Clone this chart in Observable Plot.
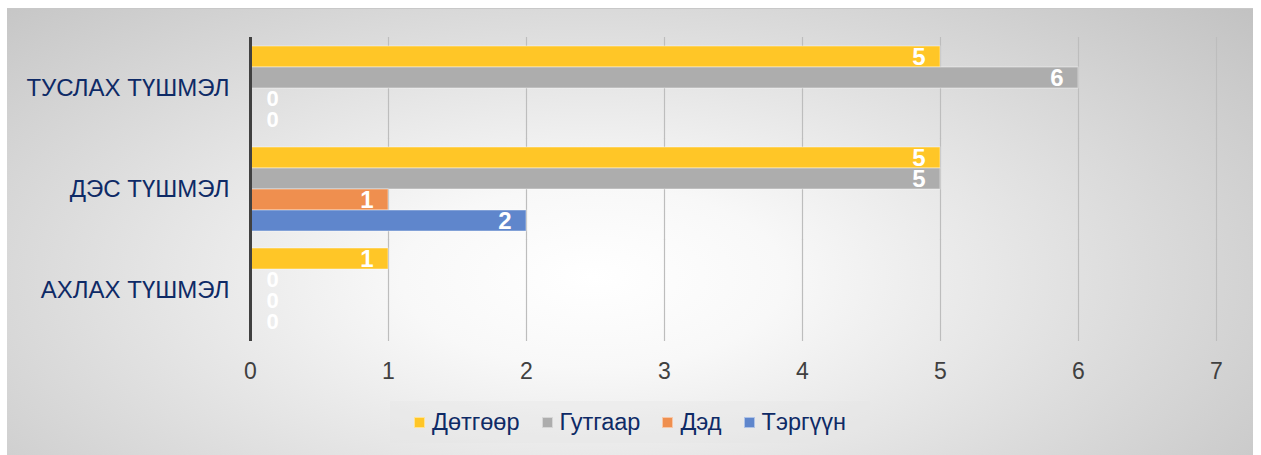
<!DOCTYPE html>
<html><head><meta charset="utf-8">
<script src="https://cdn.jsdelivr.net/npm/d3@7"></script>
<script src="https://cdn.jsdelivr.net/npm/@observablehq/plot@0.6"></script>
<style>
html,body{margin:0;padding:0;background:#fff;}
#wrap{position:relative;width:1261px;height:455px;overflow:hidden;font-family:"Liberation Sans",Arial,sans-serif;}
#bg{position:absolute;left:7px;top:8px;width:1246px;height:447px;
 background:radial-gradient(ellipse 70% 92% at 47% 60%, #ffffff 0%, #f8f8f8 22%, #dcdcdc 62%, #c2c2c2 100%);
 border-top:1px solid #c8c8c8;}
#chart{position:absolute;left:0;top:0;}
#legend{position:absolute;left:390px;top:401px;width:480px;height:42px;background:rgba(228,228,228,0.35);
 display:flex;align-items:center;justify-content:center;font-size:23.5px;color:#0e2a66;}
#legend .item{display:flex;align-items:center;margin:0 11px;}
#legend .sw{width:11px;height:11px;margin-right:7px;box-sizing:border-box;border:1px solid rgba(255,255,255,0.5);}
</style></head>
<body>
<div id="wrap"><div id="bg"></div><div id="chart"></div><div id="legend"></div></div>
<script>
const categories = ["ТУСЛАХ ТҮШМЭЛ", "ДЭС ТҮШМЭЛ", "АХЛАХ ТҮШМЭЛ"];
const seriesNames = ["Дөтгөөр", "Гутгаар", "Дэд", "Тэргүүн"];
const dotgoor = [5, 5, 1];
const gutgaar = [6, 5, 0];
const ded = [0, 1, 0];
const tergvvn = [0, 2, 0];
const colors = ["#ffc627", "#adadad", "#ef8f4f", "#5f86cc"];
const xTicks = [0, 1, 2, 3, 4, 5, 6, 7];

const seriesValues = [dotgoor, gutgaar, ded, tergvvn];
const data = [];
categories.forEach((c, i) => seriesNames.forEach((s, j) => data.push({category: c, series: s, value: seriesValues[j][i]})));

const navy = "#0e2a66";
const chart = Plot.plot({
  width: 1261, height: 390,
  marginLeft: 250, marginRight: 45, marginTop: 36, marginBottom: 50,
  style: {background: "transparent", fontFamily: "'Liberation Sans', Arial, sans-serif", overflow: "visible"},
  x: {domain: [0, 7], label: null},
  y: {domain: seriesNames, axis: null, padding: 0},
  fy: {domain: categories, paddingInner: 0.14, paddingOuter: 0.07, label: null},
  color: {domain: seriesNames, range: colors},
  marks: [
    Plot.ruleX(xTicks.filter(t => t > 0), {stroke: "#bdbdbd", strokeWidth: 1.2, insetTop: -7, insetBottom: -8}),
    Plot.barX(data.filter(d => d.value > 0), {x: "value", y: "series", fy: "category", fill: "series", stroke: "white", strokeOpacity: 0.45, strokeWidth: 1}),
    Plot.ruleX([0], {stroke: "#404040", strokeWidth: 3, insetTop: -7, insetBottom: -8}),
    Plot.text(data.filter(d => d.value > 0), {x: "value", y: "series", fy: "category", text: d => String(d.value), textAnchor: "end", dx: -15, fill: "white", fontWeight: "bold", fontSize: 24}),
    Plot.text(data.filter(d => d.value === 0), {x: "value", y: "series", fy: "category", text: d => String(d.value), textAnchor: "start", dx: 16, fill: "white", fontWeight: "bold", fontSize: 22}),
    Plot.axisX({ticks: xTicks, tickFormat: d => String(d), tickSize: 0, tickPadding: 29, fontSize: 23, color: "#404040", fill: "#404040", label: null}),
    Plot.axisFy({anchor: "left", tickSize: 0, tickPadding: 21, fontSize: 24, color: navy, fill: navy, label: null})
  ]
});
document.getElementById("chart").appendChild(chart);

const legend = document.getElementById("legend");
seriesNames.forEach((s, i) => {
  const item = document.createElement("div");
  item.className = "item";
  const sw = document.createElement("div");
  sw.className = "sw";
  sw.style.background = colors[i];
  const t = document.createElement("span");
  t.textContent = s;
  item.appendChild(sw); item.appendChild(t);
  legend.appendChild(item);
});
</script>
</body></html>
